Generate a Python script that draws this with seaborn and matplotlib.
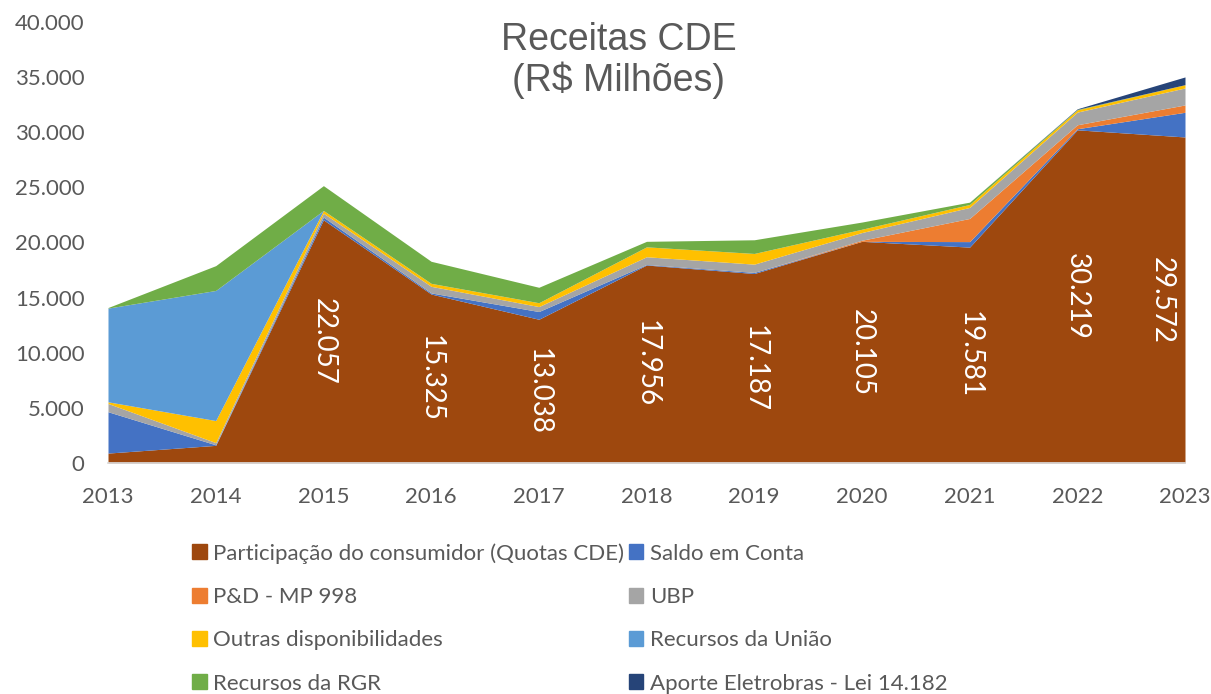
import matplotlib
matplotlib.use("Agg")
import matplotlib.pyplot as plt
import matplotlib.patches as mpatches
from matplotlib.ticker import FuncFormatter
import seaborn as sns

# Receitas CDE (R$ milhoes)
anos = [2013, 2014, 2015, 2016, 2017, 2018, 2019, 2020, 2021, 2022, 2023]
participacao = [900, 1600, 22057, 15325, 13038, 17956, 17187, 20105, 19581, 30219, 29572]
saldo = [3750, 50, 250, 100, 700, 50, 100, 0, 500, 100, 2240]
pd_mp998 = [0, 0, 0, 0, 0, 0, 0, 100, 2100, 360, 665]
ubp = [750, 200, 350, 600, 450, 700, 750, 700, 1000, 1150, 1540]
outras = [150, 2000, 250, 270, 350, 900, 970, 300, 270, 200, 300]
uniao = [8500, 11800, 0, 0, 0, 0, 0, 0, 0, 0, 0]
rgr = [50, 2250, 2250, 2000, 1400, 500, 1240, 650, 210, 50, 0]
aporte = [0, 0, 0, 0, 0, 0, 0, 0, 0, 50, 700]

series = [participacao, saldo, pd_mp998, ubp, outras, uniao, rgr, aporte]
nomes = ["Participação do consumidor (Quotas CDE)", "Saldo em Conta", "P&D - MP 998", "UBP",
         "Outras disponibilidades", "Recursos da União", "Recursos da RGR",
         "Aporte Eletrobras - Lei 14.182"]
cores = ["#9E480E", "#4472C4", "#ED7D31", "#A5A5A5", "#FFC000", "#5B9BD5", "#70AD47", "#264478"]

sns.set_theme(style="white")
plt.rcParams["font.family"] = ["Lato", "DejaVu Sans"]

fig = plt.figure(figsize=(12.11, 6.94), dpi=100)
ax = fig.add_axes([108 / 1211, 1 - 463 / 694, (1185 - 108) / 1211, (463 - 22) / 694])

ax.stackplot(anos, *series, colors=cores, linewidth=0)

# data labels for the consumer share, centred in the brown area
for ano, v in zip(anos, participacao):
    if ano < 2015:
        continue
    xpos = ano - 0.22 if ano == anos[-1] else ano
    ax.text(xpos, v / 2, f"{v:,}".replace(",", "."), rotation=270, color="white",
            ha="center", va="center", fontsize=20, clip_on=False, zorder=5)

ax.set_xlim(2013, 2023)
ax.set_ylim(0, 40000)
ax.set_xticks(anos)
ax.set_yticks(range(0, 40001, 5000))
ax.yaxis.set_major_formatter(FuncFormatter(lambda v, p: f"{int(v):,}".replace(",", ".")))
ax.tick_params(axis="both", labelsize=16, colors="#595959", length=0)
ax.tick_params(axis="x", pad=17)
ax.tick_params(axis="y", pad=17)
for s in ["top", "right", "left"]:
    ax.spines[s].set_visible(False)
ax.spines["bottom"].set_color("#D9D9D9")
ax.set_facecolor("none")

fig.text(0.511, 0.968, "Receitas CDE\n(R$ Milhões)", ha="center", va="top",
         fontsize=27, color="#595959", family="Liberation Sans", linespacing=1.12)

handles = [mpatches.Patch(color=c, label=n) for c, n in zip(cores, nomes)]
ordem = [0, 2, 4, 6, 1, 3, 5, 7]
fig.legend([handles[i] for i in ordem], [nomes[i] for i in ordem], ncol=2,
           loc="upper left", bbox_to_anchor=(181 / 1211, 1 - 532 / 694), frameon=False,
           fontsize=16, labelcolor="#595959", handlelength=0.65, handleheight=0.65,
           handletextpad=0.3, labelspacing=1.05, columnspacing=0.2, borderpad=0)

fig.savefig("out.png", dpi=100)
